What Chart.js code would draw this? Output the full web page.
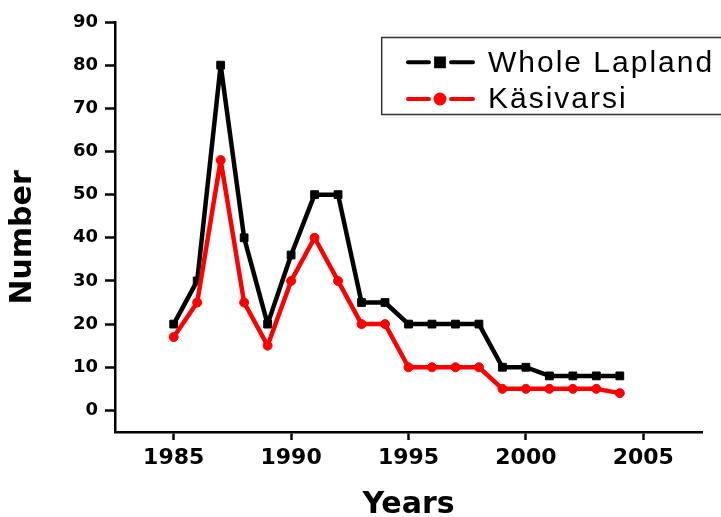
<!DOCTYPE html>
<html>
<head>
<meta charset="utf-8">
<script src="https://cdn.jsdelivr.net/npm/chart.js@4/dist/chart.umd.min.js"></script>
<style>
  html, body { margin: 0; padding: 0; background: #fff; }
  #wrap { width: 721px; height: 517px; }
</style>
</head>
<body>
<div id="wrap"><canvas id="graph"></canvas></div>
<script>
var years = [1985, 1986, 1987, 1988, 1989, 1990, 1991, 1992, 1993, 1994,
             1995, 1996, 1997, 1998, 1999, 2000, 2001, 2002, 2003, 2004];
var whole_lapland = [20, 30, 80, 40, 20, 36, 50, 50, 25, 25,
                     20, 20, 20, 20, 10, 10, 8, 8, 8, 8];
var kasivarsi = [17, 25, 58, 25, 15, 30, 40, 30, 20, 20,
                 10, 10, 10, 10, 5, 5, 5, 5, 5, 4];
var series_labels = ["Whole Lapland", "Käsivarsi"];
var x_ticks = [1985, 1990, 1995, 2000, 2005];
var y_ticks = [0, 10, 20, 30, 40, 50, 60, 70, 80, 90];

function toPoints(values)
{
    var pts = [];
    for (var i = 0; i < years.length; i++) {
        pts.push({x: years[i], y: values[i]});
    }
    return pts;
}

// legend drawn by hand so it can sit where the original has it
var boxLegend = {
    id: 'boxLegend',
    afterDraw: function(chart) {
        var ctx = chart.ctx;
        var sets = chart.data.datasets;
        var rows = [62.3, 99];
        ctx.save();
        ctx.lineWidth = 1.5;
        ctx.strokeStyle = '#333';
        ctx.strokeRect(381.7, 37.5, 400, 77);
        for (var i = 0; i < sets.length; i++) {
            var ds = sets[i];
            var y = rows[i];
            ctx.strokeStyle = ds.borderColor;
            ctx.fillStyle = ds.borderColor;
            ctx.lineWidth = 4;
            ctx.lineCap = 'round';
            ctx.beginPath();
            ctx.moveTo(408, y); ctx.lineTo(429, y);
            ctx.moveTo(451, y); ctx.lineTo(473, y);
            ctx.stroke();
            Chart.helpers.drawPoint(ctx, {pointStyle: ds.pointStyle, radius: ds.pointRadius, borderWidth: 1}, 440, y);
            ctx.fill();
            ctx.fillStyle = '#000';
            ctx.font = '30px "Liberation Sans", Arial, sans-serif';
            ctx.letterSpacing = '2px';
            ctx.textBaseline = 'middle';
            ctx.textAlign = 'left';
            ctx.fillText(ds.label, 488, y + 1);
            ctx.letterSpacing = '0px';
        }
        ctx.restore();
    }
};

var data_lines = {
    datasets: [
        {
            label: series_labels[0],
            data: toPoints(whole_lapland),
            borderColor: "#000000",
            backgroundColor: "#000000",
            borderWidth: 4.5,
            borderJoinStyle: 'round',
            pointStyle: 'rect',
            pointRadius: 5.5,
            pointBorderWidth: 1,
            pointBorderColor: "#000000",
            pointBackgroundColor: "#000000",
            tension: 0,
            order: 2
        },
        {
            label: series_labels[1],
            data: toPoints(kasivarsi),
            borderColor: "#ff0000",
            backgroundColor: "#ff0000",
            borderWidth: 4.5,
            borderJoinStyle: 'round',
            pointStyle: 'circle',
            pointRadius: 4.5,
            pointBorderWidth: 1,
            pointBorderColor: "#ff0000",
            pointBackgroundColor: "#ff0000",
            tension: 0,
            order: 1
        }
    ]
};

var tickFont = function(size) {
    return {family: '"DejaVu Sans", sans-serif', weight: 'bold', size: size};
};

var options = {
    responsive: false,
    animation: false,
    layout: { padding: {top: 22, right: 19, left: 0, bottom: 0} },
    plugins: {
        legend: { display: false },
        tooltip: { enabled: false }
    },
    scales: {
        x: {
            type: 'linear',
            min: 1982.5,
            max: 2007.5,
            border: { color: '#000', width: 2.5 },
            grid: { drawOnChartArea: false, drawTicks: true, tickLength: 8, tickWidth: 2.5, tickColor: '#000' },
            ticks: {
                color: '#000',
                padding: 5,
                font: tickFont(22),
                callback: function(v) { return String(v); }
            },
            title: {
                display: true,
                text: 'Years',
                color: '#000',
                font: {family: '"DejaVu Sans", sans-serif', weight: 'bold', size: 30, lineHeight: 0.8},
                padding: 0
            },
            afterBuildTicks: function(scale) {
                scale.ticks = x_ticks.map(function(v) { return {value: v}; });
            },
            afterFit: function(scale) { scale.height = 85; }
        },
        y: {
            min: -5,
            max: 90,
            border: { color: '#000', width: 2.5 },
            grid: { drawOnChartArea: false, drawTicks: true, tickLength: 10, tickWidth: 2.5, tickColor: '#000' },
            ticks: {
                color: '#000',
                padding: 7,
                font: tickFont(18)
            },
            title: {
                display: true,
                text: 'Number  ',
                color: '#000',
                font: {family: '"DejaVu Sans", sans-serif', weight: 'bold', size: 30, lineHeight: 1},
                padding: {top: 8, bottom: 0}
            },
            afterBuildTicks: function(scale) {
                scale.ticks = y_ticks.map(function(v) { return {value: v}; });
            },
            afterFit: function(scale) { scale.width = 115; }
        }
    }
};

var ctx_graph = document.getElementById("graph").getContext("2d");
ctx_graph.canvas.width = 721;
ctx_graph.canvas.height = 517;

var lineChart = new Chart(ctx_graph, {
    type: 'line',
    data: data_lines,
    options: options,
    plugins: [boxLegend]
});
</script>
</body>
</html>
